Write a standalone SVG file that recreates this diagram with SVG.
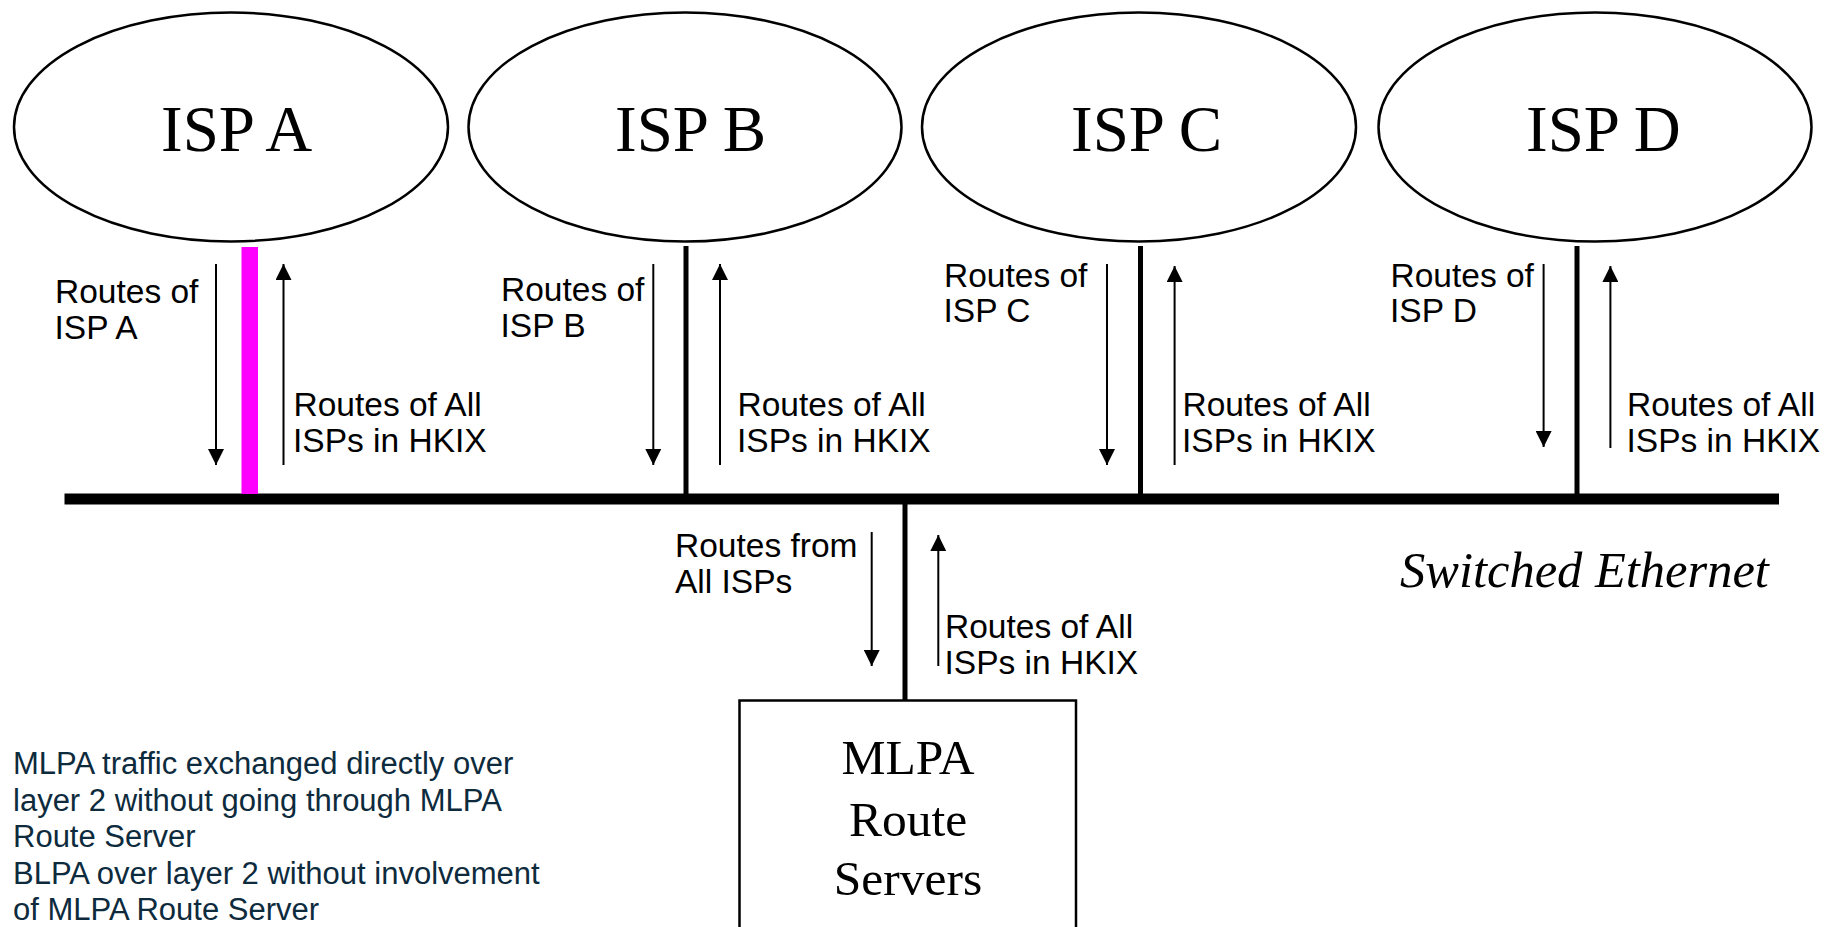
<svg xmlns="http://www.w3.org/2000/svg" width="1836" height="927" viewBox="0 0 1836 927">
  <style>
    .isp { fill: #ffffff; stroke: #000000; stroke-width: 2.5; }
    .isp-label { font-family: "Liberation Serif", "Times New Roman", serif; font-size: 65px; fill: #000000; }
    .lbl { font-family: "Liberation Sans", Arial, sans-serif; font-size: 33.5px; fill: #000000; }
    .arrow { stroke: #000000; stroke-width: 2; fill: none; marker-end: url(#head); }
    .link { stroke: #000000; stroke-width: 5; fill: none; }
    .note { font-family: "Liberation Sans", Arial, sans-serif; font-size: 31px; fill: #0d2b3d; }
    .box-label { font-family: "Liberation Serif", "Times New Roman", serif; font-size: 49.5px; fill: #000000; text-anchor: middle; }
  </style>
  <defs>
    <marker id="head" markerUnits="userSpaceOnUse" markerWidth="16" markerHeight="16" refX="16" refY="8" orient="auto">
      <path d="M0,0 L16,8 L0,16 Z" fill="#000000"/>
    </marker>
  </defs>
  <rect width="1836" height="927" fill="#ffffff"/>

  <g id="isp-a">
    <ellipse class="isp" cx="231" cy="127" rx="217" ry="114.5"/>
    <text class="isp-label" x="161" y="151">ISP A</text>
  </g>
  <g id="isp-b">
    <ellipse class="isp" cx="685" cy="127" rx="216.5" ry="114.5"/>
    <text class="isp-label" x="615" y="151">ISP B</text>
  </g>
  <g id="isp-c">
    <ellipse class="isp" cx="1139" cy="127" rx="217" ry="114.5"/>
    <text class="isp-label" x="1071" y="151">ISP C</text>
  </g>
  <g id="isp-d">
    <ellipse class="isp" cx="1595" cy="127" rx="216.5" ry="114.5"/>
    <text class="isp-label" x="1526" y="151">ISP D</text>
  </g>

  <g id="switched-ethernet">
    <rect x="64.5" y="493.5" width="1714.5" height="11" fill="#000000"/>
    <text x="1400" y="587" font-family="Liberation Serif, 'Times New Roman', serif" font-style="italic" font-size="50.5px" fill="#000000">Switched Ethernet</text>
  </g>

  <g id="mlpa-route-servers">
    <rect x="739.5" y="700.5" width="336.5" height="300" fill="#ffffff" stroke="#000000" stroke-width="2.5"/>
    <text class="box-label" x="908" y="774">MLPA</text>
    <text class="box-label" x="908" y="836">Route</text>
    <text class="box-label" x="908" y="895">Servers</text>
  </g>

  <g id="connectors">
    <rect x="241.5" y="247" width="16.5" height="247" fill="#ff00ff"/>
    <line class="link" x1="686" y1="246" x2="686" y2="494"/>
    <line class="link" x1="1140.5" y1="246" x2="1140.5" y2="494"/>
    <line class="link" x1="1577" y1="246" x2="1577" y2="494"/>
    <line class="link" x1="905" y1="504" x2="905" y2="701"/>

    <line class="arrow" x1="216" y1="264" x2="216" y2="465"/>
    <line class="arrow" x1="283.5" y1="465" x2="283.5" y2="264"/>
    <line class="arrow" x1="653.3" y1="264" x2="653.3" y2="465"/>
    <line class="arrow" x1="720" y1="465" x2="720" y2="264"/>
    <line class="arrow" x1="1107" y1="264" x2="1107" y2="465"/>
    <line class="arrow" x1="1174.6" y1="465" x2="1174.6" y2="266"/>
    <line class="arrow" x1="1543.6" y1="264" x2="1543.6" y2="447"/>
    <line class="arrow" x1="1610.4" y1="448" x2="1610.4" y2="266"/>
    <line class="arrow" x1="871.7" y1="532" x2="871.7" y2="666"/>
    <line class="arrow" x1="938.3" y1="666" x2="938.3" y2="535"/>
  </g>

  <g id="labels">
    <text class="lbl" x="55" y="302.7">Routes of</text>
    <text class="lbl" x="54.5" y="339">ISP A</text>
    <text class="lbl" x="293.5" y="415.7">Routes of All</text>
    <text class="lbl" x="293" y="451.7">ISPs in HKIX</text>

    <text class="lbl" x="501" y="301">Routes of</text>
    <text class="lbl" x="500.5" y="337">ISP B</text>
    <text class="lbl" x="737.5" y="415.7">Routes of All</text>
    <text class="lbl" x="737" y="451.7">ISPs in HKIX</text>

    <text class="lbl" x="944" y="286.7">Routes of</text>
    <text class="lbl" x="943.5" y="321.7">ISP C</text>
    <text class="lbl" x="1182.5" y="415.7">Routes of All</text>
    <text class="lbl" x="1182" y="451.7">ISPs in HKIX</text>

    <text class="lbl" x="1390.5" y="286.7">Routes of</text>
    <text class="lbl" x="1390" y="321.7">ISP D</text>
    <text class="lbl" x="1627" y="415.7">Routes of All</text>
    <text class="lbl" x="1626.5" y="451.7">ISPs in HKIX</text>

    <text class="lbl" x="675" y="556.7">Routes from</text>
    <text class="lbl" x="675" y="592.7">All ISPs</text>
    <text class="lbl" x="945" y="638.3">Routes of All</text>
    <text class="lbl" x="944.5" y="674">ISPs in HKIX</text>
  </g>

  <g id="note">
    <text class="note" x="13" y="774">MLPA traffic exchanged directly over</text>
    <text class="note" x="13" y="810.5">layer 2 without going through MLPA</text>
    <text class="note" x="13" y="847">Route Server</text>
    <text class="note" x="13" y="884">BLPA over layer 2 without involvement</text>
    <text class="note" x="13" y="920">of MLPA Route Server</text>
  </g>
</svg>
